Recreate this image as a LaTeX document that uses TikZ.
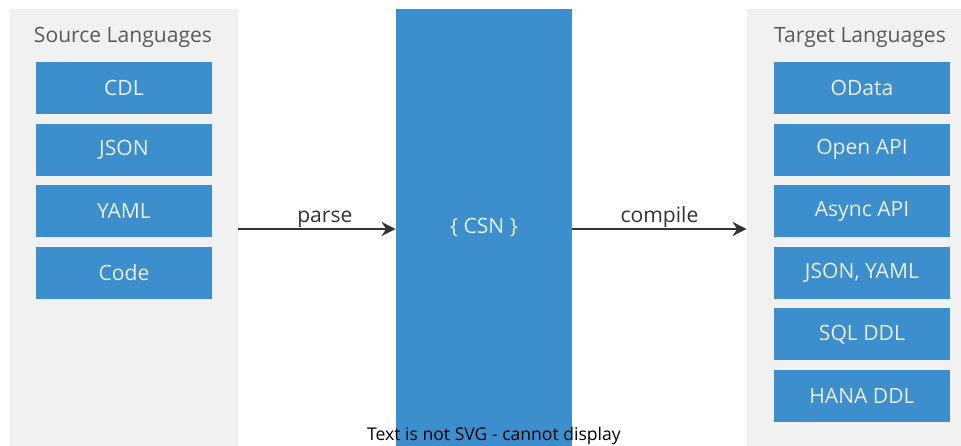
\documentclass[tikz,border=0pt]{standalone}
\usepackage{fontspec}
\setmainfont{Open Sans}
\usepackage{tikz}
\usetikzlibrary{arrows.meta,positioning,calc}
\definecolor{panegray}{RGB}{241,241,241}
\definecolor{boxblue} {RGB}{61,142,205}
\definecolor{boxtext} {RGB}{232,240,248}
\definecolor{titlegray}{RGB}{90,90,90}
\definecolor{linegray}{RGB}{51,51,51}

\begin{document}
\begin{tikzpicture}[
  x=0.02cm,y=-0.02cm,
  pane/.style={rectangle,fill=panegray,draw=none,inner sep=0pt},
  lang/.style={rectangle,fill=boxblue,draw=none,minimum width=3.52cm,minimum height=1.04cm,
    inner sep=0pt,text=boxtext,font=\fontsize{12}{14}\selectfont},
  title/.style={text=titlegray,font=\fontsize{12}{14}\selectfont},
  flowlabel/.style={above,text=linegray,font=\fontsize{12}{14}\selectfont,inner sep=0pt},
  flow/.style={-{Stealth[length=8pt,width=8pt]},draw=linegray,line width=1.1pt}]
  \useasboundingbox (0,0) rectangle (961,446);
  % the two side panels and the CSN block in the middle
  \node[pane,minimum width=4.56cm,minimum height=8.74cm](src) at(124,227.5){};
  \node[pane,minimum width=4.28cm,minimum height=8.74cm](tgt) at(854,227.5){};
  \node[lang,minimum height=8.74cm](csn) at(484,227.5){\{ CSN \}};
  \node[title](srctitle) at(123,37.5){Source Languages};
  \node[title](tgttitle) at(860,37.5){Target Languages};
  % source side
  \node[lang](cdl)  at(124,88){CDL};
  \node[lang](json) at(124,149.6){JSON};
  \node[lang](yaml) at(124,211.2){YAML};
  \node[lang](code) at(124,272.8){Code};
  % target side
  \node[lang](odata)   at(862,88){OData};
  \node[lang](openapi) at(862,149.6){Open API};
  \node[lang](async)   at(862,211.2){Async API};
  \node[lang](jsonyaml)at(862,272.8){JSON, YAML};
  \node[lang](sqlddl)  at(862,334.4){SQL DDL};
  \node[lang](hanaddl) at(862,396){HANA DDL};
  % arrows, a little below the middle of the panels
  \draw[flow]($(src.east)+(0,1.5)$)--node[flowlabel,pos=0.55]{parse}($(csn.west)+(0,1.5)$);
  \draw[flow]($(csn.east)+(0,1.5)$)--node[flowlabel]{compile}($(tgt.west)+(0,1.5)$);
  \node[text=black,font=\fontsize{10}{12}\selectfont](nosvg) at(494,436){Text is not SVG - cannot display};
\end{tikzpicture}
\end{document}
